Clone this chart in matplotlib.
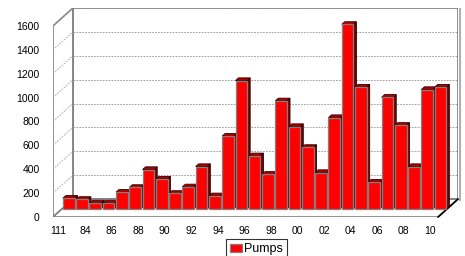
import matplotlib
matplotlib.use("Agg")
import matplotlib.pyplot as plt
from matplotlib.patches import Polygon
import numpy as np

plt.rcParams['font.family'] = ['Liberation Sans', 'DejaVu Sans']

# data (1982 .. 2010)
years = list(range(1982, 2011))
pumps = [90, 80, 50, 50, 140, 180, 330, 250, 130, 185, 355, 110, 610, 1075, 445,
         290, 905, 690, 515, 305, 765, 1545, 1020, 225, 935, 700, 355, 1000, 1020]
tick_labels = ['111', '84', '86', '88', '90', '92', '94', '96', '98', '00',
               '02', '04', '06', '08', '10']
yticks = list(range(0, 1601, 200))

# fake 3d: depth offsets in data units
DX = 1.5      # slots
DY = 150      # value units
n = len(years)
d_front, d_back = 0.45, 0.60
bar_w = 0.88
bar_left = 0.07

fig = plt.figure(figsize=(4.65, 2.56), dpi=100)
W, H = 465, 256
ax = fig.add_axes([53 / W, 1 - 217 / H, 405 / W, 209 / H])
ax.set_xlim(0, n + DX)
ax.set_ylim(0, 1600 + DY)
for s in ax.spines.values():
    s.set_visible(False)

edge = '#808080'
# walls and floor
ax.add_patch(Polygon([(DX, DY), (n + DX, DY), (n + DX, 1600 + DY), (DX, 1600 + DY)],
                     closed=True, fc='white', ec=edge, lw=1.2, zorder=0))
ax.add_patch(Polygon([(0, 0), (0, 1600), (DX, 1600 + DY), (DX, DY)],
                     closed=True, fc='white', ec=edge, lw=1.2, zorder=0))
ax.add_patch(Polygon([(0, 0), (n, 0), (n + DX, DY), (DX, DY)],
                     closed=True, fc='white', ec=edge, lw=1.2, zorder=0))
# shadow on the right edge of the floor
ax.plot([n, n + DX], [0, DY], color='black', lw=1.2, zorder=1, clip_on=False)
ax.plot([n + DX + 0.12, n + DX + 0.12], [DY - 10, 1600 + DY - 10], color='#b0b0b0',
        lw=1.5, zorder=0, clip_on=False)

for v in yticks[1:]:
    ax.plot([DX, n + DX], [v + DY, v + DY], color='#909090', lw=0.6,
            ls=(0, (2, 1.5)), zorder=0)
    ax.plot([0, DX], [v, v + DY], color='#a0a0a0', lw=0.6, ls=(0, (2, 1.5)), zorder=0)

# bars
x = np.arange(n)
ox_f, oy_f = d_front * DX, d_front * DY
ox_b, oy_b = d_back * DX, d_back * DY
dx, dy = ox_b - ox_f, oy_b - oy_f
for i in range(n):
    v = pumps[i]
    x0 = x[i] + bar_left + ox_f
    x1 = x0 + bar_w
    # right side
    ax.add_patch(Polygon([(x1, oy_f), (x1 + dx, oy_f + dy), (x1 + dx, oy_f + dy + v), (x1, oy_f + v)],
                         closed=True, fc='#700000', ec='#300000', lw=0.6, zorder=3))
    # top cap
    ax.add_patch(Polygon([(x0, oy_f + v), (x1, oy_f + v), (x1 + dx, oy_f + v + dy), (x0 + dx, oy_f + v + dy)],
                         closed=True, fc='#b00000', ec='#300000', lw=0.6, zorder=3))
bars = ax.bar(x + bar_left + ox_f, pumps, width=bar_w, bottom=oy_f, align='edge',
              color='#ff0000', edgecolor=edge, lw=0.9, zorder=4, label='Pumps')

ax.set_yticks(yticks)
ax.set_yticklabels([str(v) for v in yticks])
ax.set_xticks(x[::2] + 0.42)
ax.set_xticklabels(tick_labels)
ax.tick_params(axis='y', length=0, pad=9.5, labelsize=7.5)
ax.tick_params(axis='x', length=0, pad=6.5, labelsize=7.5)

leg = fig.legend(handles=[bars], labels=['Pumps'], loc='upper left',
                 bbox_to_anchor=(226 / W, 1 - 239 / H), fontsize=9, frameon=True,
                 fancybox=False, edgecolor='black', handlelength=0.9, handleheight=0.7,
                 handletextpad=0.2, borderpad=0.35, borderaxespad=0)
leg.get_frame().set_linewidth(0.8)

fig.savefig('out.png', dpi=100)
